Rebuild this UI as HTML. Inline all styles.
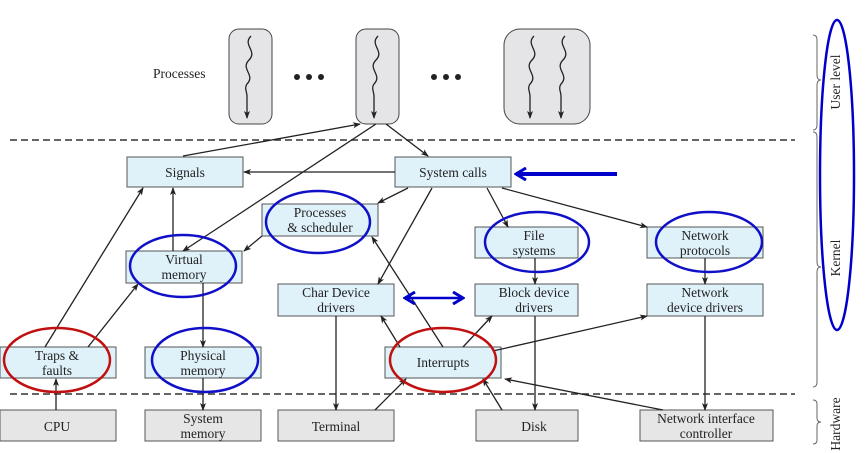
<!DOCTYPE html>
<html><head><meta charset="utf-8"><style>
html,body{margin:0;padding:0;background:#fff;}
svg{display:block;}
text{font-family:"Liberation Serif",serif;font-size:13.5px;fill:#222;}
</style></head><body>
<svg width="868" height="453" viewBox="0 0 868 453" xmlns="http://www.w3.org/2000/svg">
<defs>
<marker id="a" markerWidth="8" markerHeight="8" refX="7" refY="4" orient="auto" markerUnits="userSpaceOnUse"><path d="M0,1 L8,4 L0,7 L2,4 Z" fill="#222"/></marker>
<marker id="b" markerWidth="14" markerHeight="14" refX="12" refY="7" orient="auto" markerUnits="userSpaceOnUse"><path d="M2,1 L12,7 L2,13" fill="none" stroke="#0000cc" stroke-width="3"/></marker>
<marker id="bs" markerWidth="14" markerHeight="14" refX="2" refY="7" orient="auto" markerUnits="userSpaceOnUse"><path d="M12,1 L2,7 L12,13" fill="none" stroke="#0000cc" stroke-width="3"/></marker>
</defs>
<text x="153" y="78">Processes</text>
<rect x="229" y="29" width="43" height="95" rx="10" fill="#e5e5e8" stroke="#444"/>
<rect x="356" y="29" width="43" height="95" rx="10" fill="#e5e5e8" stroke="#444"/>
<rect x="504" y="29" width="86" height="95" rx="16" fill="#e5e5e8" stroke="#444"/>
<g fill="none" stroke="#222" stroke-width="1.3" marker-end="url(#a)">
<path d="M251,36 c-9,9 7,15 -2,24 c-9,9 7,15 -2,24 c-3,4 0,8 0,12 L247,118"/>
<path d="M378,36 c-9,9 7,15 -2,24 c-9,9 7,15 -2,24 c-3,4 0,8 0,12 L374,118"/>
<path d="M534,36 c-9,9 7,15 -2,24 c-9,9 7,15 -2,24 c-3,4 0,8 0,12 L530,118"/>
<path d="M565,36 c-9,9 7,15 -2,24 c-9,9 7,15 -2,24 c-3,4 0,8 0,12 L561,118"/>
</g>
<g fill="#222"><circle cx="297" cy="77" r="3"/><circle cx="309" cy="77" r="3"/><circle cx="321" cy="77" r="3"/><circle cx="434" cy="77" r="3"/><circle cx="446" cy="77" r="3"/><circle cx="458" cy="77" r="3"/></g>
<line x1="10" y1="140" x2="795" y2="140" stroke="#333" stroke-width="1.5" stroke-dasharray="7,4"/>
<line x1="10" y1="394" x2="795" y2="394" stroke="#333" stroke-width="1.5" stroke-dasharray="7,4"/>
<g fill="#dff1f9" stroke="#555">
<rect x="127" y="157" width="116" height="30"/>
<rect x="395" y="157" width="116" height="30"/>
<rect x="262" y="204" width="116" height="32"/>
<rect x="126" y="251" width="116" height="32"/>
<rect x="475" y="227" width="103" height="31"/>
<rect x="647" y="227" width="116" height="31"/>
<rect x="278" y="284" width="116" height="32"/>
<rect x="475" y="284" width="103" height="32"/>
<rect x="647" y="284" width="116" height="32"/>
<rect x="0" y="347" width="116" height="31"/>
<rect x="145" y="347" width="116" height="31"/>
<rect x="385" y="347" width="116" height="31"/>
</g>
<g fill="#e6e6e6" stroke="#555">
<rect x="0" y="410" width="116" height="31"/>
<rect x="145" y="410" width="116" height="31"/>
<rect x="278" y="410" width="116" height="31"/>
<rect x="476" y="410" width="102" height="31"/>
<rect x="640" y="410" width="133" height="31"/>
</g>
<g text-anchor="middle">
<text x="185" y="177">Signals</text>
<text x="453" y="177">System calls</text>
<text x="320" y="217">Processes</text><text x="320" y="232">&amp; scheduler</text>
<text x="184" y="264">Virtual</text><text x="184" y="279">memory</text>
<text x="534" y="240">File</text><text x="534" y="255">systems</text>
<text x="705" y="240">Network</text><text x="705" y="255">protocols</text>
<text x="336" y="297">Char Device</text><text x="336" y="312">drivers</text>
<text x="534" y="297">Block device</text><text x="534" y="312">drivers</text>
<text x="705" y="297">Network</text><text x="705" y="312">device drivers</text>
<text x="57" y="360">Traps &amp;</text><text x="57" y="375">faults</text>
<text x="203" y="360">Physical</text><text x="203" y="375">memory</text>
<text x="443" y="367">Interrupts</text>
<text x="57" y="431">CPU</text>
<text x="203" y="423">System</text><text x="203" y="438">memory</text>
<text x="336" y="431">Terminal</text>
<text x="534" y="431">Disk</text>
<text x="706" y="423">Network interface</text><text x="706" y="438">controller</text>
</g>
<g stroke="#222" stroke-width="1.3" fill="none" marker-end="url(#a)">
<line x1="183" y1="156" x2="360" y2="124"/>
<line x1="386" y1="124" x2="428" y2="156"/>
<line x1="376" y1="124" x2="183" y2="251"/>
<line x1="395" y1="172" x2="244" y2="172"/>
<line x1="408" y1="188" x2="378" y2="203"/>
<line x1="432" y1="188" x2="378" y2="284"/>
<line x1="487" y1="188" x2="508" y2="227"/>
<line x1="502" y1="188" x2="647" y2="227"/>
<line x1="262" y1="236" x2="244" y2="251"/>
<line x1="443" y1="347" x2="372" y2="237"/>
<line x1="45" y1="347" x2="143" y2="188"/>
<line x1="88" y1="347" x2="138" y2="284"/>
<line x1="173" y1="251" x2="173" y2="188"/>
<line x1="203" y1="283" x2="203" y2="347"/>
<line x1="203" y1="378" x2="203" y2="410"/>
<line x1="56" y1="410" x2="56" y2="379"/>
<line x1="336" y1="316" x2="336" y2="410"/>
<line x1="375" y1="410" x2="406" y2="379"/>
<line x1="400" y1="347" x2="381" y2="316"/>
<line x1="463" y1="347" x2="492" y2="316"/>
<line x1="493" y1="351" x2="647" y2="316"/>
<line x1="535" y1="258" x2="535" y2="284"/>
<line x1="535" y1="316" x2="535" y2="410"/>
<line x1="502" y1="410" x2="483" y2="379"/>
<line x1="705" y1="258" x2="705" y2="284"/>
<line x1="705" y1="316" x2="705" y2="410"/>
<line x1="663" y1="410" x2="505" y2="379"/>
</g>
<g fill="none" stroke-width="2.5">
<ellipse cx="318" cy="222" rx="52" ry="31" stroke="#1010c8"/>
<ellipse cx="183" cy="266" rx="53" ry="31" stroke="#1010c8"/>
<ellipse cx="537" cy="242" rx="52" ry="30" stroke="#1010c8"/>
<ellipse cx="709" cy="242" rx="53" ry="30" stroke="#1010c8"/>
<ellipse cx="57" cy="360" rx="53" ry="32" stroke="#c01010"/>
<ellipse cx="205" cy="360" rx="53" ry="32" stroke="#1010c8"/>
<ellipse cx="443" cy="360" rx="53" ry="32" stroke="#c01010"/>
<ellipse cx="837" cy="175" rx="17" ry="155" stroke="#0000cc"/>
</g>
<line x1="617" y1="174" x2="516" y2="174" stroke="#0000cc" stroke-width="4" marker-end="url(#b)"/>
<line x1="405" y1="298" x2="463" y2="298" stroke="#0000cc" stroke-width="2.5" marker-end="url(#b)" marker-start="url(#bs)"/>
<g fill="none" stroke="#666" stroke-width="1">
<path d="M813,35 q4,0 4,5 v35 q0,5 4,5 q-4,0 -4,5 v40 q0,5 -4,5"/>
<path d="M813,132 q4,0 4,5 v125 q0,5 4,5 q-4,0 -4,5 v110 q0,5 -4,5"/>
<path d="M813,400 q4,0 4,4 v14 q0,4 4,4 q-4,0 -4,4 v14 q0,4 -4,4"/>
</g>
<g text-anchor="middle">
<text transform="translate(840,82) rotate(-90)">User level</text>
<text transform="translate(840,258) rotate(-90)">Kernel</text>
<text transform="translate(840,424) rotate(-90)">Hardware</text>
</g>
</svg>
</body></html>
